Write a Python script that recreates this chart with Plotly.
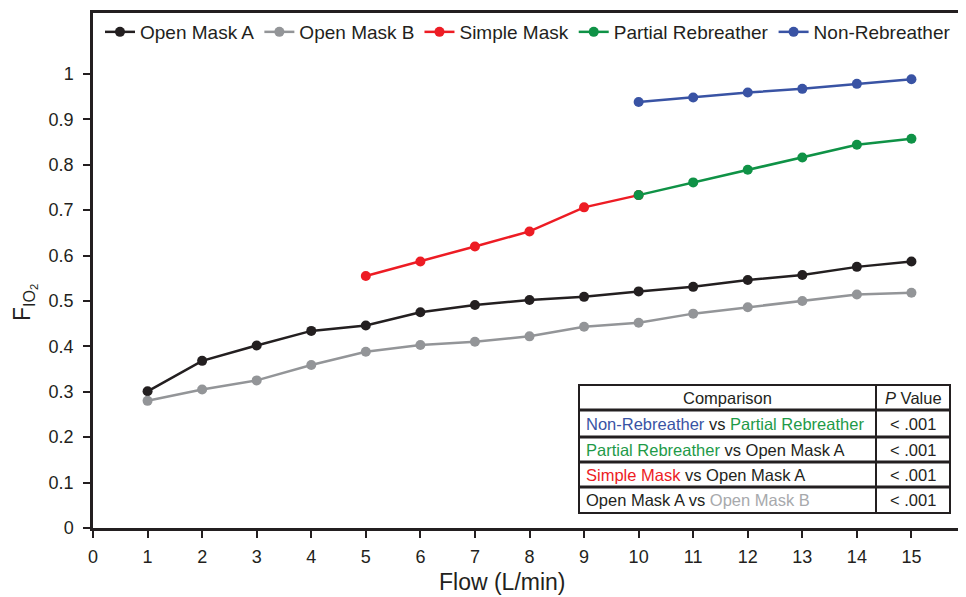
import plotly.graph_objects as go

flow = list(range(1, 16))
open_a = [0.301, 0.368, 0.402, 0.434, 0.446, 0.475, 0.491, 0.502, 0.509, 0.521, 0.531, 0.546, 0.557, 0.575, 0.587]
open_b = [0.280, 0.305, 0.325, 0.359, 0.388, 0.403, 0.410, 0.422, 0.443, 0.452, 0.472, 0.486, 0.500, 0.514, 0.518]
simple_x = [5, 6, 7, 8, 9, 10]
simple = [0.555, 0.587, 0.620, 0.653, 0.706, 0.733]
partial_x = [10, 11, 12, 13, 14, 15]
partial = [0.733, 0.761, 0.789, 0.816, 0.844, 0.857]
nonreb_x = [10, 11, 12, 13, 14, 15]
nonreb = [0.938, 0.948, 0.959, 0.967, 0.978, 0.988]

x_ticks = list(range(0, 16))
y_ticks = [0, 0.1, 0.2, 0.3, 0.4, 0.5, 0.6, 0.7, 0.8, 0.9, 1]
y_ticklabels = ["0", "0.1", "0.2", "0.3", "0.4", "0.5", "0.6", "0.7", "0.8", "0.9", "1"]

BLACK = "#231f20"
GRAY = "#939598"
RED = "#ed1c24"
GREEN = "#0f9246"
BLUE = "#3953a4"
GREEN_T = "#1e9a48"
GRAY_T = "#a7a9ac"

series = [
    ("Open Mask A", flow, open_a, BLACK),
    ("Open Mask B", flow, open_b, GRAY),
    ("Simple Mask", simple_x, simple, RED),
    ("Partial Rebreather", partial_x, partial, GREEN),
    ("Non-Rebreather", nonreb_x, nonreb, BLUE),
]

table_header = ["Comparison", "<i>P</i> Value"]
table_rows = [
    (f"<span style='color:{BLUE}'>Non-Rebreather</span> vs <span style='color:{GREEN_T}'>Partial Rebreather</span>", "< .001"),
    (f"<span style='color:{GREEN_T}'>Partial Rebreather</span> vs Open Mask A", "< .001"),
    (f"<span style='color:{RED}'>Simple Mask</span> vs Open Mask A", "< .001"),
    (f"Open Mask A vs <span style='color:{GRAY_T}'>Open Mask B</span>", "< .001"),
]

FONT = "Liberation Sans, Arial, sans-serif"

fig = go.Figure()
for name, xs, ys, col in series:
    fig.add_trace(go.Scatter(
        x=xs, y=ys, name=name, mode="lines+markers",
        line=dict(color=col, width=2.5),
        marker=dict(color=col, size=10),
    ))

OFF = 8  # browser body margin
W, H = 966 - OFF, 597 - OFF
L, T = 93 - OFF, 13 - OFF
R = 0
B = H - (528 - OFF)
pw, ph = W - L - R, H - T - B


def px(xp):
    return (xp - OFF - L) / pw


def py(yp):
    return (H - B - (yp - OFF)) / ph


shapes = []
annots = []
# table geometry (reference pixels)
tx0, tx1, tdiv = 579, 950, 876
row_y = [385, 410, 437, 462, 487, 513]
lw = 2
shapes.append(dict(type="rect", xref="paper", yref="paper",
                   x0=px(tx0), x1=px(tx1), y0=py(row_y[-1]), y1=py(row_y[0]),
                   line=dict(color=BLACK, width=lw), fillcolor="white", layer="above"))
for yy in row_y[1:-1]:
    shapes.append(dict(type="line", xref="paper", yref="paper",
                       x0=px(tx0), x1=px(tx1), y0=py(yy), y1=py(yy),
                       line=dict(color=BLACK, width=lw + 1), layer="above"))
shapes.append(dict(type="line", xref="paper", yref="paper",
                   x0=px(tdiv), x1=px(tdiv), y0=py(row_y[-1]), y1=py(row_y[0]),
                   line=dict(color=BLACK, width=lw), layer="above"))

tfont = dict(family=FONT, size=16.5, color=BLACK)
annots.append(dict(xref="paper", yref="paper", x=px((tx0 + tdiv) / 2), y=py((row_y[0] + row_y[1]) / 2),
                   text=table_header[0], showarrow=False, font=tfont, xanchor="center", yanchor="middle"))
annots.append(dict(xref="paper", yref="paper", x=px((tdiv + tx1) / 2), y=py((row_y[0] + row_y[1]) / 2),
                   text=table_header[1], showarrow=False, font=tfont, xanchor="center", yanchor="middle"))
for i, (left, right) in enumerate(table_rows):
    yc = py((row_y[i + 1] + row_y[i + 2]) / 2)
    annots.append(dict(xref="paper", yref="paper", x=px(tx0 + 5), y=yc, text=left, showarrow=False,
                       font=tfont, xanchor="left", yanchor="middle"))
    annots.append(dict(xref="paper", yref="paper", x=px((tdiv + tx1) / 2), y=yc, text=right, showarrow=False,
                       font=tfont, xanchor="center", yanchor="middle"))

# axis titles
annots.append(dict(xref="paper", yref="paper", x=px(502), y=py(582), text="Flow (L/min)", showarrow=False,
                   font=dict(family=FONT, size=23, color=BLACK), xanchor="center", yanchor="middle"))
annots.append(dict(xref="paper", yref="paper", x=px(24), y=py(303), text="F<sub>IO<sub>2</sub></sub>",
                   showarrow=False, textangle=-90,
                   font=dict(family=FONT, size=23, color=BLACK), xanchor="center", yanchor="middle"))

fig.update_layout(
    width=W, height=H,
    margin=dict(l=L, r=R, t=T, b=B, pad=0),
    paper_bgcolor="white", plot_bgcolor="white",
    font=dict(family=FONT, color=BLACK),
    showlegend=True,
    legend=dict(orientation="h", x=0.008, y=1.0, xanchor="left", yanchor="top",
                font=dict(family=FONT, size=19, color=BLACK), bgcolor="rgba(0,0,0,0)",
                itemwidth=30, tracegroupgap=0),
    xaxis=dict(range=[0, 16], tickmode="array", tickvals=x_ticks, ticktext=[str(v) for v in x_ticks],
               showgrid=False, zeroline=False, showline=True, linecolor=BLACK, linewidth=2.5,
               mirror=True, ticks="outside", ticklen=7, tickwidth=2, tickcolor=BLACK,
               ticklabelstandoff=4,
               tickfont=dict(family=FONT, size=18, color=BLACK)),
    yaxis=dict(range=[0, 1.134], tickmode="array", tickvals=y_ticks, ticktext=y_ticklabels,
               showgrid=False, zeroline=False, showline=True, linecolor=BLACK, linewidth=2.5,
               ticks="outside", ticklen=7, tickwidth=2, tickcolor=BLACK,
               ticklabelstandoff=6,
               tickfont=dict(family=FONT, size=18, color=BLACK)),
    shapes=shapes, annotations=annots,
)

fig.write_html("out.html")
